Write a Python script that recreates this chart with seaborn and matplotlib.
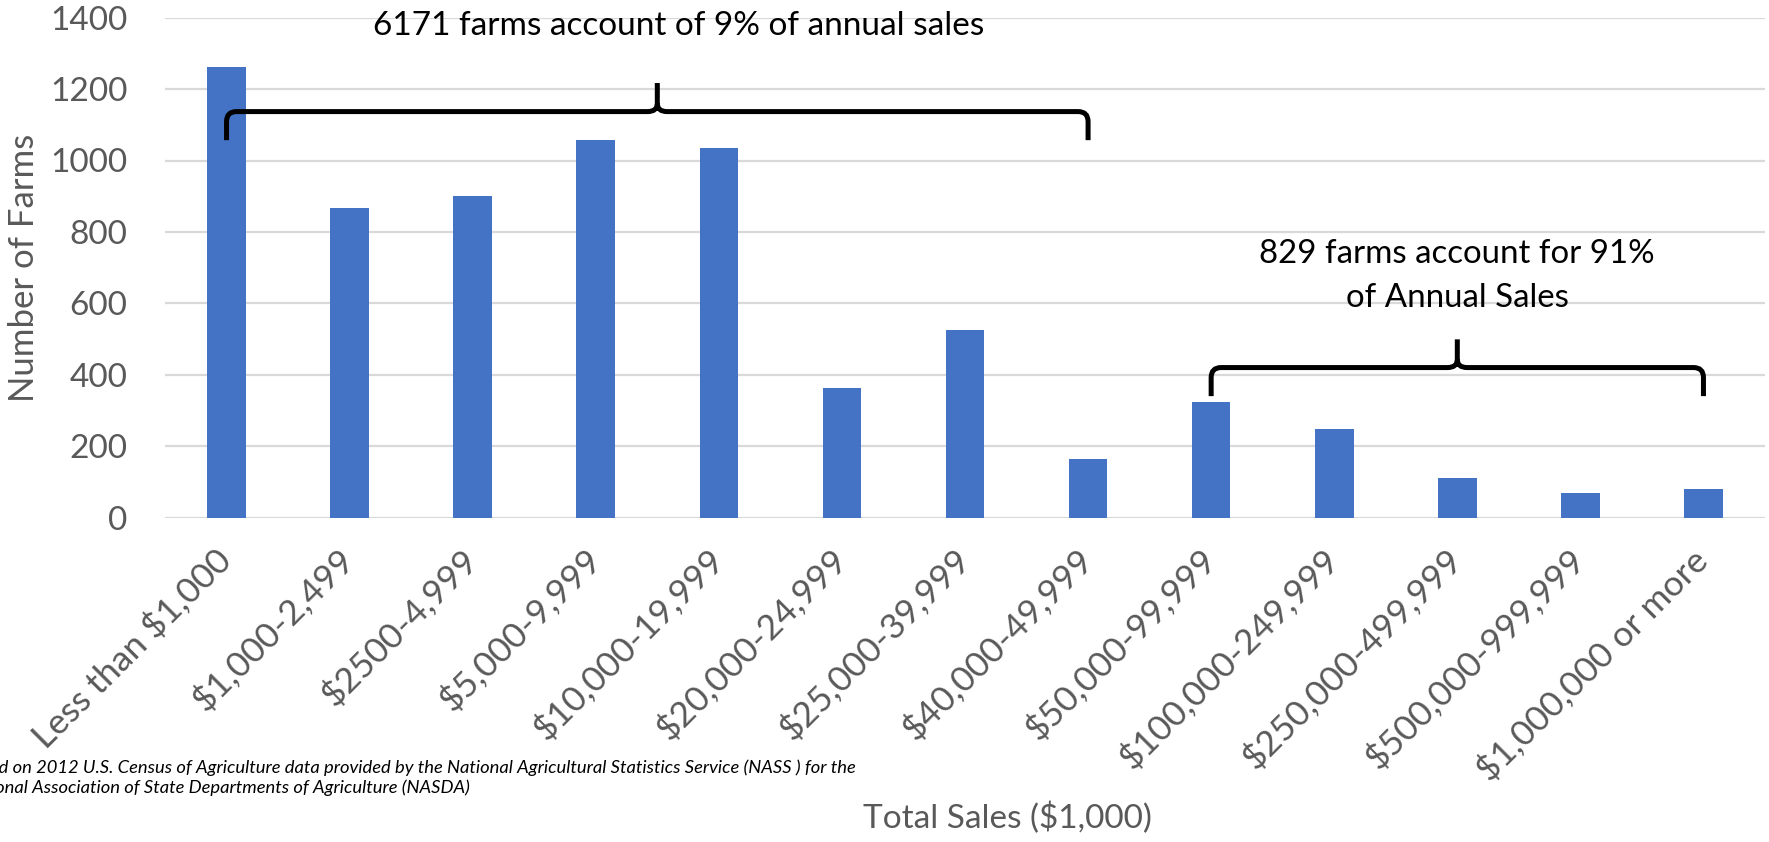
import matplotlib
matplotlib.use("Agg")
import matplotlib.pyplot as plt
import matplotlib.transforms as mtransforms
from matplotlib.path import Path
from matplotlib.patches import PathPatch
import pandas as pd
import seaborn as sns

# Farm counts by total sales class (2012 Census of Agriculture)
categories = [
    "Less than $1,000", "$1,000-2,499", "$2500-4,999", "$5,000-9,999",
    "$10,000-19,999", "$20,000-24,999", "$25,000-39,999", "$40,000-49,999",
    "$50,000-99,999", "$100,000-249,999", "$250,000-499,999",
    "$500,000-999,999", "$1,000,000 or more",
]
farms = [1262, 867, 901, 1058, 1034, 362, 524, 163, 323, 248, 111, 68, 79]
y_ticks = [0, 200, 400, 600, 800, 1000, 1200, 1400]

# Bracketed groups: first and last category index of each group
small_group = (0, 7)
large_group = (8, 12)
small_note = "6171 farms account of 9% of annual sales"
large_note = ["829 farms account for 91%", "of Annual Sales"]
source_note = ("Based on 2012 U.S. Census of Agriculture data provided by the National "
               "Agricultural Statistics Service (NASS ) for the\n"
               "National Association of State Departments of Agriculture (NASDA)")

BAR = "#4472C4"
GREY_TXT = "#595959"
GRID = "#D9D9D9"

sns.set_theme(style="white")
plt.rcParams["font.family"] = ["Lato", "DejaVu Sans"]

W, H = 1769, 842
fig = plt.figure(figsize=(W / 100, H / 100), dpi=100)
fig.patch.set_facecolor("white")
ax = fig.add_axes([165 / W, 1 - 517.5 / H, 1600 / W, 499.8 / H])

df = pd.DataFrame({"sales": categories, "farms": farms})
sns.barplot(data=df, x="sales", y="farms", color=BAR, saturation=1,
            width=0.314, linewidth=0, ax=ax)

ax.set_xlim(-0.5, len(categories) - 0.5)
ax.set_ylim(0, 1400)
ax.set_yticks(y_ticks)
ax.yaxis.grid(True, color=GRID, linewidth=1.6)
ax.xaxis.grid(False)
ax.set_axisbelow(True)
for s in ax.spines.values():
    s.set_visible(False)

ax.tick_params(axis="y", length=0, labelsize=24, labelcolor=GREY_TXT, pad=27)
ax.tick_params(axis="x", length=0, labelsize=25.5, labelcolor=GREY_TXT, pad=18)
shift = mtransforms.ScaledTranslation(-0.13, 0, fig.dpi_scale_trans)
for lab in ax.get_xticklabels():
    lab.set_rotation(45)
    lab.set_ha("right")
    lab.set_va("top")
    lab.set_rotation_mode("anchor")
    lab.set_transform(lab.get_transform() + shift)

ax.set_ylabel("Number of Farms", fontsize=25, color=GREY_TXT)
ax.yaxis.label.set_va("center")
ax.yaxis.set_label_coords((24 - 165) / 1600, 0.5)
ax.set_xlabel("Total Sales ($1,000)", fontsize=24, color=GREY_TXT)
ax.xaxis.label.set_va("baseline")
ax.xaxis.set_label_coords((1007 - 165) / 1600, (517.5 - 828) / 499.8)


def brace(x0, x1, y_end, y_bar, y_tip, rx=0.08, ry=28):
    """Curly bracket opening downward, drawn in data coordinates."""
    xm = (x0 + x1) / 2
    verts = [
        (x0, y_end), (x0, y_bar - ry), (x0, y_bar), (x0 + rx, y_bar),
        (xm - rx, y_bar), (xm, y_bar), (xm, y_bar + ry * 0.8), (xm, y_tip),
        (xm, y_bar + ry * 0.8), (xm, y_bar), (xm + rx, y_bar),
        (x1 - rx, y_bar), (x1, y_bar), (x1, y_bar - ry), (x1, y_end),
    ]
    codes = [Path.MOVETO, Path.LINETO, Path.CURVE3, Path.CURVE3,
             Path.LINETO, Path.CURVE3, Path.CURVE3, Path.LINETO,
             Path.MOVETO, Path.CURVE3, Path.CURVE3,
             Path.LINETO, Path.CURVE3, Path.CURVE3, Path.LINETO]
    patch = PathPatch(Path(verts, codes), facecolor="none", edgecolor="black",
                      linewidth=3.6, capstyle="butt", joinstyle="round",
                      clip_on=False, zorder=5)
    ax.add_patch(patch)


brace(small_group[0], small_group[1], 1057, 1137, 1217)
brace(large_group[0], large_group[1], 340, 420, 499)

ax.text(3.67, 1351, small_note, ha="center", va="baseline", fontsize=24,
        color="black", clip_on=False)
ax.text(10.0, 712, large_note[0], ha="center", va="baseline", fontsize=23.8,
        color="black")
ax.text(10.0, 590, large_note[1], ha="center", va="baseline", fontsize=23.8,
        color="black")

# Two-line source note; its left end runs past the figure edge
fig.text(856 / W, 1 - 793 / H, source_note, ha="right", va="baseline",
         multialignment="left", fontsize=13.2, style="italic", color="black",
         linespacing=1.25)

fig.savefig("out.png", dpi=100, facecolor="white")
